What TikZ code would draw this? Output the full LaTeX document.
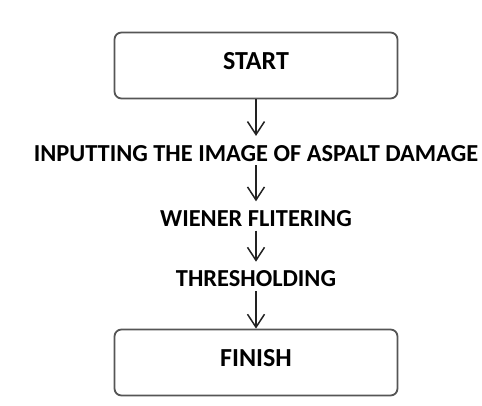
\documentclass[tikz,border=0pt]{standalone}
\usepackage{fontspec}
\setmainfont{Carlito}
\usepackage{tikz}
\usetikzlibrary{positioning,arrows.meta}
\definecolor{fgray}{HTML}{555555}
\definecolor{fdark}{HTML}{222222}

\begin{document}
\begin{tikzpicture}[
  x=1pt, y=1pt,
  termbox/.style={rectangle, rounded corners=7pt, draw=fgray, line width=1.8pt,
    font=\fontsize{26}{28}\selectfont\bfseries, minimum width=283pt, minimum height=66pt,
    text height=18pt, text depth=10pt},
  stage/.style={font=\fontsize{24.4}{26}\selectfont\bfseries, inner sep=0pt,
    text height=25pt, text depth=4pt},
  arr/.style={-{Straight Barb[length=13pt, width=17pt, line width=1.5pt]}, line width=1.5pt, color=fdark}
]
\useasboundingbox (0,0) rectangle (482,-406);
\node[termbox] (start) at (256,-65.5) {START};
\node[stage, below=36.5pt of start] (input) {INPUTTING THE IMAGE OF ASPALT DAMAGE};
\node[stage, below=36pt of input] (wiener) {WIENER FLITERING};
\node[stage, below=31pt of wiener] (thresh) {THRESHOLDING};
\node[termbox, below=37.5pt of thresh] (finish) {FINISH};

\draw[arr] (start) -- (input);
\draw[arr] (input) -- (wiener);
\draw[arr] (wiener) -- (thresh);
\draw[arr] (thresh) -- (finish);
\end{tikzpicture}
\end{document}
